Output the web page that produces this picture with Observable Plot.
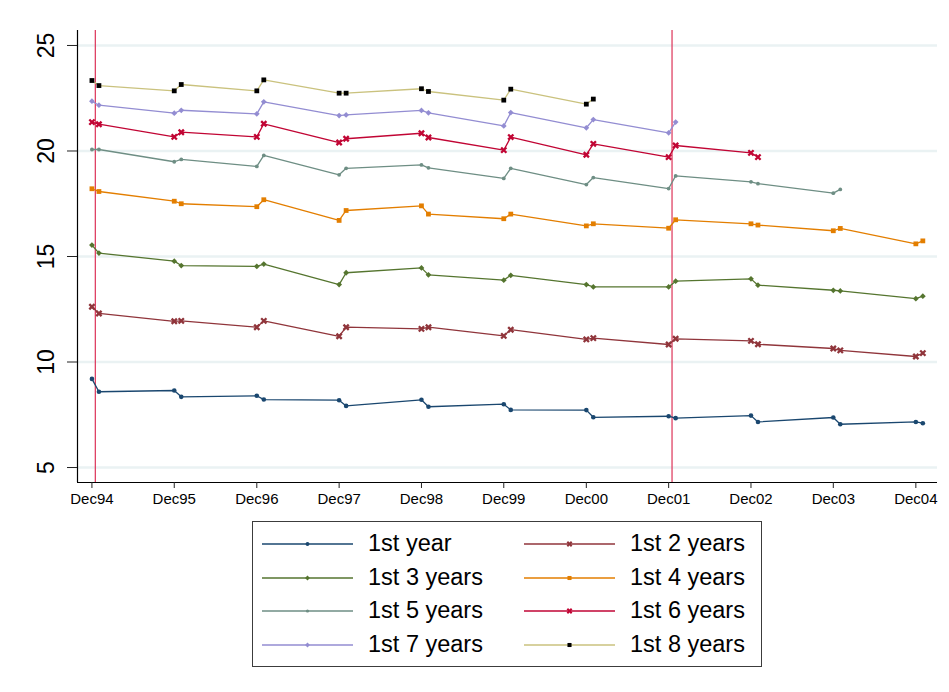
<!DOCTYPE html>
<html>
<head>
<meta charset="utf-8">
<script src="https://cdn.jsdelivr.net/npm/d3@7"></script>
<script src="https://cdn.jsdelivr.net/npm/@observablehq/plot@0.6"></script>
<style>
  body { margin: 0; background: #fff; font-family: "Liberation Sans", Arial, sans-serif; }
  #chart svg { display: block; }
  #legend {
    margin: 9px 0 0 252px;
    width: 510px; height: 146px;
    box-sizing: border-box;
    border: 1.3px solid #3c3c3c;
    display: grid;
    grid-template-columns: 262px 247px;
    grid-auto-rows: 33.7px;
    padding: 5px 0 0 9px;
  }
  .item { display: flex; align-items: center; }
  .item svg { display: block; }
  .item span { font-size: 23.5px; margin-left: 15px; color: #000; line-height: 1; }
</style>
</head>
<body>
<div id="chart"></div>
<div id="legend"></div>
<script>
// Observation dates: each December and the following January
const periods = [
  "1994-12","1995-01","1995-12","1996-01","1996-12","1997-01","1997-12","1998-01",
  "1998-12","1999-01","1999-12","2000-01","2000-12","2001-01","2001-12","2002-01",
  "2002-12","2003-01","2003-12","2004-01","2004-12","2005-01"
];

const seriesNames = [
  "1st year","1st 2 years","1st 3 years","1st 4 years",
  "1st 5 years","1st 6 years","1st 7 years","1st 8 years"
];

// One value per period; later cohorts stop earlier
const year1 = [9.20, 8.59, 8.65, 8.35, 8.40, 8.22, 8.19, 7.92, 8.21, 7.88, 8.00, 7.73, 7.72, 7.38, 7.43, 7.34, 7.46, 7.16, 7.37, 7.05, 7.16, 7.10];
const years2 = [12.62, 12.30, 11.93, 11.95, 11.65, 11.95, 11.22, 11.65, 11.57, 11.65, 11.24, 11.53, 11.07, 11.13, 10.83, 11.10, 11.00, 10.84, 10.64, 10.55, 10.26, 10.42];
const years3 = [15.54, 15.16, 14.78, 14.57, 14.53, 14.64, 13.67, 14.23, 14.46, 14.13, 13.88, 14.11, 13.67, 13.56, 13.56, 13.83, 13.94, 13.64, 13.40, 13.37, 13.00, 13.12];
const years4 = [18.21, 18.08, 17.62, 17.50, 17.36, 17.69, 16.71, 17.18, 17.40, 17.01, 16.79, 17.01, 16.45, 16.55, 16.34, 16.74, 16.55, 16.49, 16.22, 16.33, 15.60, 15.74];
const years5 = [20.07, 20.07, 19.49, 19.60, 19.27, 19.79, 18.87, 19.18, 19.34, 19.20, 18.70, 19.18, 18.41, 18.74, 18.22, 18.82, 18.54, 18.45, 18.00, 18.18];
const years6 = [21.37, 21.27, 20.67, 20.89, 20.67, 21.29, 20.40, 20.58, 20.84, 20.64, 20.04, 20.66, 19.82, 20.34, 19.71, 20.26, 19.91, 19.71];
const years7 = [22.36, 22.17, 21.79, 21.93, 21.76, 22.33, 21.68, 21.71, 21.92, 21.81, 21.19, 21.82, 21.10, 21.49, 20.86, 21.37];
const years8 = [23.34, 23.10, 22.85, 23.15, 22.85, 23.37, 22.74, 22.74, 22.95, 22.82, 22.41, 22.93, 22.22, 22.46];

const seriesValues = [year1, years2, years3, years4, years5, years6, years7, years8];

// Axis ticks and reference dates
const yTicks = [5, 10, 15, 20, 25];
const xTicks = ["1994-12","1995-12","1996-12","1997-12","1998-12","1999-12","2000-12","2001-12","2002-12","2003-12","2004-12"];
const breakDates = ["1994-12-16", "2001-12-16"];

// Styling per series
const lineColors   = ["#1a476f","#90353b","#55752f","#e37e00","#6e8e84","#c10534","#938dd2","#cac27e"];
const markerColors = ["#1a476f","#90353b","#55752f","#e37e00","#6e8e84","#c10534","#938dd2","#000000"];
const markerSymbols = ["circle","times","diamond2","square","circle","times","diamond2","square"];
const markerRadii = [2.3, 2.5, 2.6, 2.7, 1.9, 2.5, 2.6, 2.7];

const parseMonth = d3.utcParse("%Y-%m");
const parseDay = d3.utcParse("%Y-%m-%d");
const xDomain = [parseDay("1994-09-28"), parseDay("2005-03-07")];
const yDomain = [4.29, 25.71];

const rows = seriesNames.map((name, i) =>
  seriesValues[i].map((v, j) => ({ series: name, date: parseMonth(periods[j]), value: v }))
);

const seriesMarks = rows.flatMap((data, i) => {
  const sym = markerSymbols[i];
  const dotOpts = sym === "times"
    ? { x: "date", y: "value", symbol: sym, r: markerRadii[i], stroke: markerColors[i], strokeWidth: 2.3, fill: "none" }
    : { x: "date", y: "value", symbol: sym, r: markerRadii[i], fill: markerColors[i], stroke: "none" };
  return [
    Plot.line(data, { x: "date", y: "value", stroke: lineColors[i], strokeWidth: 1.3 }),
    Plot.dot(data, dotOpts)
  ];
});

const chart = Plot.plot({
  width: 949,
  height: 512,
  marginLeft: 77,
  marginRight: 12,
  marginTop: 30,
  marginBottom: 30,
  style: { fontFamily: "'Liberation Sans', Arial, sans-serif", background: "#fff", color: "#000" },
  x: { type: "utc", domain: xDomain },
  y: { domain: yDomain },
  marks: [
    Plot.gridY(yTicks, { stroke: "#eaf2f3", strokeOpacity: 1, strokeWidth: 2.5 }),
    Plot.ruleX(breakDates.map(parseDay), { stroke: "#dd3358", strokeWidth: 1.2 }),
    ...seriesMarks,
    Plot.ruleX([xDomain[0]], { stroke: "#000", strokeWidth: 1.2 }),
    Plot.ruleY([yDomain[0]], { stroke: "#000", strokeWidth: 1.2 }),
    Plot.axisY(yTicks, { tickSize: 10, tickFormat: () => "", stroke: "#222", label: null }),
    Plot.text(yTicks, {
      y: d => d, text: d => String(d), frameAnchor: "left", dx: -30.5,
      rotate: -90, textAnchor: "middle", lineAnchor: "middle", fontSize: 23, fill: "#000"
    }),
    Plot.axisX(xTicks.map(parseMonth), {
      tickSize: 6, tickPadding: 5, tickFormat: d3.utcFormat("%b%y"),
      fontSize: 15, stroke: "#222", label: null
    })
  ]
});
document.getElementById("chart").append(chart);

// Legend: sample line with marker, then the series name
const symbolTypes = {
  circle: d3.symbolCircle, times: d3.symbolTimes, diamond2: d3.symbolDiamond2, square: d3.symbolSquare
};
const legend = d3.select("#legend");
seriesNames.forEach((name, i) => {
  const item = legend.append("div").attr("class", "item");
  const svg = item.append("svg").attr("width", 91).attr("height", 20);
  svg.append("line")
    .attr("x1", 0).attr("x2", 91).attr("y1", 10).attr("y2", 10)
    .attr("stroke", lineColors[i]).attr("stroke-width", 1.4);
  const r = markerRadii[i] * 0.85;
  const path = svg.append("path")
    .attr("transform", "translate(45.5,10)")
    .attr("d", d3.symbol(symbolTypes[markerSymbols[i]], Math.PI * r * r)());
  if (markerSymbols[i] === "times") {
    path.attr("fill", "none").attr("stroke", markerColors[i]).attr("stroke-width", 2);
  } else {
    path.attr("fill", markerColors[i]);
  }
  item.append("span").text(name);
});
</script>
</body>
</html>
